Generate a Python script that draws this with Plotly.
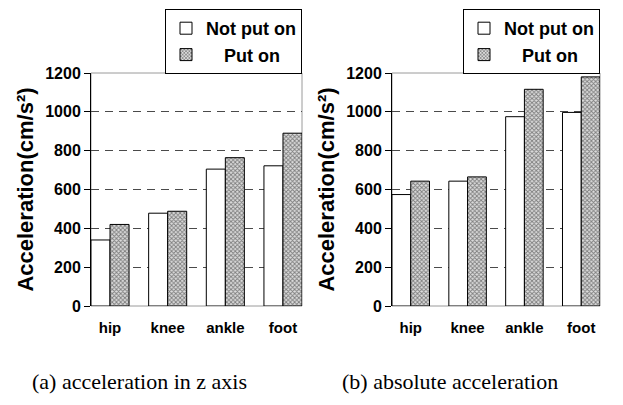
import plotly.graph_objects as go

# Body positions on the leg and the two measurement conditions
parts = ["hip", "knee", "ankle", "foot"]

# (a) acceleration along the z axis, cm/s^2
z_not_put_on = [340, 478, 705, 722]
z_put_on = [420, 488, 764, 890]

# (b) absolute acceleration, cm/s^2
abs_not_put_on = [574, 643, 975, 997]
abs_put_on = [643, 665, 1116, 1180]

y_ticks = [0, 200, 400, 600, 800, 1000, 1200]

W, H = 623, 405
sans = "Liberation Sans"
serif = "Liberation Serif"

hatch = dict(shape="x", size=3, solidity=0.5, fgcolor="#1e1e1e", bgcolor="#dcdcdc")

fig = go.Figure()

panels = [
    ("x", "y", "legend", z_not_put_on, z_put_on),
    ("x2", "y2", "legend2", abs_not_put_on, abs_put_on),
]
for xa, ya, lg, plain, worn in panels:
    fig.add_trace(go.Bar(
        x=parts, y=plain, name="Not put on", xaxis=xa, yaxis=ya, legend=lg,
        marker=dict(color="white", line=dict(color="black", width=1)),
    ))
    fig.add_trace(go.Bar(
        x=parts, y=worn, name="\u2002\u2002Put on", xaxis=xa, yaxis=ya, legend=lg,
        marker=dict(color="#dcdcdc", pattern=hatch, line=dict(color="black", width=1)),
    ))

def px_x(a, b):
    return [a / W, b / W]

def px_y(top, bottom):
    return [1 - bottom / H, 1 - top / H]

xaxis_common = dict(
    range=[-0.33, 3.33], showgrid=False, zeroline=False, showline=False,
    ticks="", tickfont=dict(family=sans, size=15, color="black", weight="bold"),
    ticklabelstandoff=11, automargin=False,
)
yaxis_common = dict(
    range=[0, 1200], tickvals=y_ticks, showgrid=True, gridcolor="#4a4a4a",
    griddash="8px,6px", gridwidth=1, zeroline=False, showline=True,
    linecolor="black", linewidth=1, ticks="outside", ticklen=6,
    tickcolor="black", tickfont=dict(family=sans, size=16, color="black", weight="bold"),
    automargin=False,
    title=dict(text="Acceleration(cm/s\u00b2)", standoff=5,
               font=dict(family=sans, size=22, color="black", weight="bold")),
)

legend_common = dict(
    xanchor="right", yanchor="top", bordercolor="black", borderwidth=1,
    bgcolor="white", font=dict(family=sans, size=18, color="black", weight="bold"),
    tracegroupgap=0, itemwidth=30,
)

fig.update_layout(
    width=W, height=H,
    margin=dict(l=0, r=0, t=0, b=0, autoexpand=False),
    paper_bgcolor="white", plot_bgcolor="white",
    barmode="group", bargap=0.34, bargroupgap=0,
    xaxis=dict(domain=px_x(91, 302), anchor="y", **xaxis_common),
    yaxis=dict(domain=px_y(73, 306), anchor="x", **yaxis_common),
    xaxis2=dict(domain=px_x(392, 600), anchor="y2", **xaxis_common),
    yaxis2=dict(domain=px_y(73, 306), anchor="x2", **yaxis_common),
    legend=dict(x=302 / W, y=1 - 9 / H, **legend_common),
    legend2=dict(x=600 / W, y=1 - 9 / H, **legend_common),
    showlegend=True,
)

# gray frame around each plotting area; the left axis line stays black
for xr, yr in [("x domain", "y domain"), ("x2 domain", "y2 domain")]:
    fig.add_shape(type="rect", xref=xr, yref=yr, x0=0, x1=1, y0=0, y1=1,
                  line=dict(color="#9a9a9a", width=1), layer="below")

captions = [("(a) acceleration in z axis", 139), ("(b) absolute acceleration", 450)]
for text, cx in captions:
    fig.add_annotation(text=text, x=cx / W, y=1 - 381 / H, xref="paper", yref="paper",
                       showarrow=False, xanchor="center", yanchor="middle",
                       font=dict(family=serif, size=22, color="black"))

fig.write_html("out.html")
